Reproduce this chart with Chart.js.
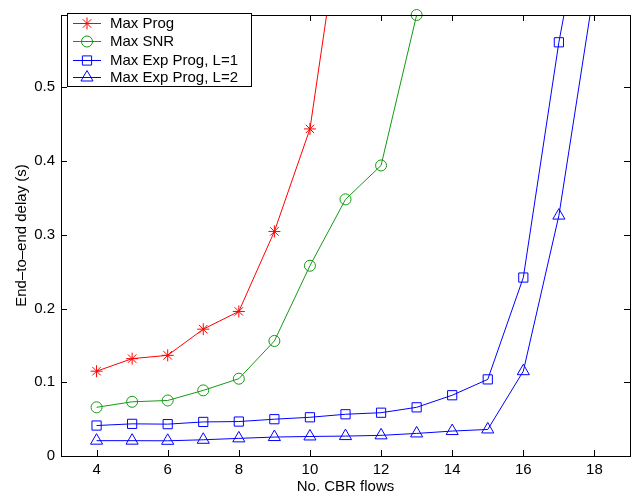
<!DOCTYPE html>
<html>
<head>
<meta charset="utf-8">
<script src="https://cdn.jsdelivr.net/npm/chart.js@4"></script>
<style>
  html, body { margin: 0; padding: 0; background: #ffffff; }
  #wrap { width: 640px; height: 497px; }
</style>
</head>
<body>
<div id="wrap"><canvas id="c" width="640" height="497"></canvas></div>
<script>
// ---- data ----
const flows = [4, 5, 6, 7, 8, 9, 10, 11, 12, 13, 14, 15, 16, 17, 18];
const maxProg = [0.115, 0.132, 0.1365, 0.172, 0.196, 0.3045, 0.4435, 0.773, null, null, null, null, null, null, null];
const maxSNR = [0.066, 0.0735, 0.0753, 0.089, 0.1048, 0.156, 0.258, 0.348, 0.394, 0.598, null, null, null, null, null];
const maxExpProgL1 = [0.0413, 0.0436, 0.0432, 0.0462, 0.0467, 0.0499, 0.0525, 0.0566, 0.0587, 0.066, 0.0824, 0.1039, 0.242, 0.561, 0.82];
const maxExpProgL2 = [0.0208, 0.0208, 0.0206, 0.022, 0.0239, 0.0257, 0.0265, 0.027, 0.028, 0.0306, 0.0338, 0.036, 0.115, 0.326, 0.636];
const seriesNames = ['Max Prog', 'Max SNR', 'Max Exp Prog, L=1', 'Max Exp Prog, L=2'];
const xTicks = [4, 6, 8, 10, 12, 14, 16, 18];
const yTicks = [0, 0.1, 0.2, 0.3, 0.4, 0.5];

const FONT = '"Liberation Sans", Arial, Helvetica, sans-serif';
const RED = '#ff0000', GREEN = '#149914', BLUE = '#0000ff';

function pts(arr) {
  const out = [];
  arr.forEach((v, i) => { if (v !== null) out.push({ x: flows[i], y: v }); });
  return out;
}

function ds(label, arr, color, style, radius, clip) {
  return {
    label: label, data: pts(arr),
    borderColor: color, backgroundColor: 'rgba(0,0,0,0)',
    borderWidth: 1, pointStyle: style, pointRadius: radius,
    pointBorderColor: color, pointBackgroundColor: 'rgba(0,0,0,0)',
    pointBorderWidth: 1, pointHoverRadius: radius, tension: 0,
    clip: clip
  };
}

// inward tick marks, box and in-plot legend
const decor = {
  id: 'decor',
  afterDraw(chart) {
    const ctx = chart.ctx, a = chart.chartArea;
    const xs = chart.scales.x, ys = chart.scales.y;
    const TL = 6;
    ctx.save();
    ctx.strokeStyle = '#000000';
    ctx.lineWidth = 1;
    ctx.beginPath();
    xTicks.forEach(t => {
      const px = Math.round(xs.getPixelForValue(t)) + 0.5;
      ctx.moveTo(px, a.bottom); ctx.lineTo(px, a.bottom - TL);
      ctx.moveTo(px, a.top); ctx.lineTo(px, a.top + TL);
    });
    yTicks.forEach(t => {
      const py = Math.round(ys.getPixelForValue(t)) + 0.5;
      ctx.moveTo(a.left, py); ctx.lineTo(a.left + TL, py);
      ctx.moveTo(a.right, py); ctx.lineTo(a.right - TL, py);
    });
    ctx.stroke();
    ctx.strokeRect(Math.round(a.left) + 0.5, Math.round(a.top) + 0.5,
                   Math.round(a.right - a.left), Math.round(a.bottom - a.top));

    // legend
    const lx = 67, ly = 13, lw = 184, lh = 73;
    ctx.fillStyle = '#ffffff';
    ctx.fillRect(lx, ly, lw, lh);
    ctx.strokeRect(lx + 0.5, ly + 0.5, lw, lh);
    const rows = [23, 41, 59.5, 77];
    ctx.font = '15px ' + FONT;
    ctx.textBaseline = 'middle';
    ctx.textAlign = 'left';
    chart.data.datasets.forEach((d, i) => {
      const y = rows[i];
      ctx.strokeStyle = d.borderColor;
      ctx.lineWidth = 1;
      ctx.beginPath();
      ctx.moveTo(73, Math.round(y) + 0.5); ctx.lineTo(101, Math.round(y) + 0.5);
      ctx.stroke();
      ctx.fillStyle = 'rgba(0,0,0,0)';
      Chart.helpers.drawPoint(ctx, { pointStyle: d.pointStyle, radius: d.pointRadius, rotation: 0, borderWidth: 1 }, 87, Math.round(y) + 0.5);
      ctx.strokeStyle = d.borderColor;
      ctx.stroke && null;
      ctx.fillStyle = '#000000';
      ctx.fillText(d.label, 110, y + 1);
    });
    ctx.restore();
  }
};

const chart = new Chart(document.getElementById('c'), {
  type: 'line',
  data: {
    datasets: [
      ds(seriesNames[0], maxProg, RED, 'star', 6, true),
      ds(seriesNames[1], maxSNR, GREEN, 'circle', 5.5, false),
      ds(seriesNames[2], maxExpProgL1, BLUE, 'rect', 6.5, true),
      ds(seriesNames[3], maxExpProgL2, BLUE, 'triangle', 7, true)
    ]
  },
  options: {
    responsive: false,
    animation: false,
    events: [],
    layout: { padding: { left: 0, top: 7, right: 10, bottom: 0 } },
    plugins: { legend: { display: false }, tooltip: { enabled: false }, title: { display: false } },
    scales: {
      x: {
        type: 'linear', min: 3, max: 19,
        afterBuildTicks(s) { s.ticks = xTicks.map(v => ({ value: v })); },
        afterFit(s) { s.height = 41; },
        grid: { display: false, drawTicks: false },
        border: { display: false },
        ticks: { color: '#000000', font: { family: FONT, size: 15 }, padding: 5, maxRotation: 0, autoSkip: false },
        title: { display: true, text: 'No. CBR flows', color: '#000000', font: { family: FONT, size: 15 }, padding: { top: 0, bottom: 1 } }
      },
      y: {
        type: 'linear', min: 0, max: 0.598,
        afterBuildTicks(s) { s.ticks = yTicks.map(v => ({ value: v })); },
        afterFit(s) { s.width = 61; },
        grid: { display: false, drawTicks: false },
        border: { display: false },
        ticks: { color: '#000000', font: { family: FONT, size: 15 }, padding: 6, autoSkip: false,
                 callback: v => (Math.round(v * 10) / 10).toString() },
        title: { display: true, text: 'End\u2013to\u2013end delay (s)', color: '#000000', font: { family: FONT, size: 15 }, padding: { top: 13, bottom: 0 } }
      }
    }
  },
  plugins: [decor]
});
</script>
</body>
</html>
